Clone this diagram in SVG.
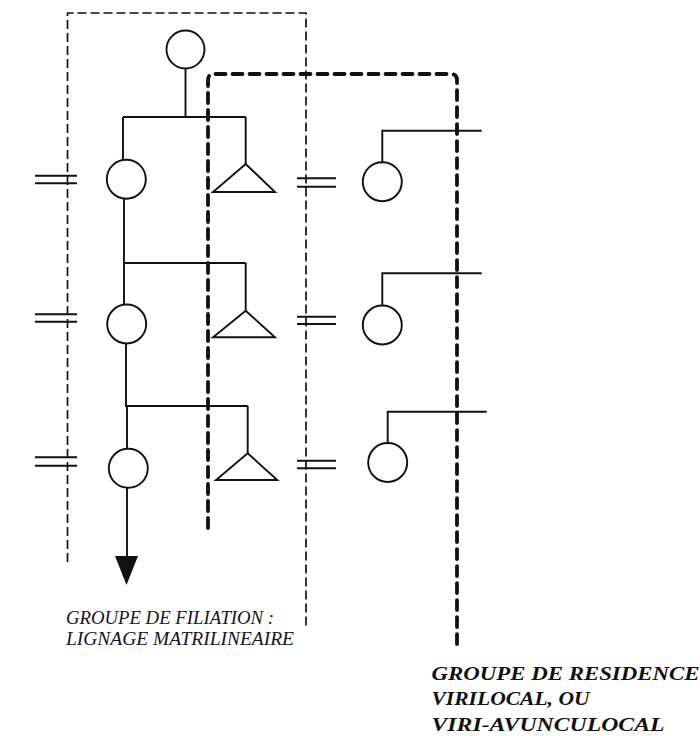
<svg xmlns="http://www.w3.org/2000/svg" width="700" height="736" viewBox="0 0 700 736">
<style>
.ln{fill:none;stroke:#111;stroke-width:1.9}
.sym{fill:#fff;stroke:#111;stroke-width:1.9}
.thin{fill:none;stroke:#111;stroke-width:1.7;stroke-dasharray:9 4}
.thick{fill:none;stroke:#111;stroke-width:3.8;stroke-dasharray:10 7;stroke-linecap:round}
.lab{font-family:"Liberation Serif","Times New Roman",serif;font-style:italic;fill:#141428}
.labb{font-family:"Liberation Serif","Times New Roman",serif;font-style:italic;font-weight:bold;fill:#111}
</style>
<rect width="700" height="736" fill="#fff"/>
<g id="groups">
<path class="thin" d="M67.5,562 V13 H306 V628"/>
<path class="thick" d="M208,528 V80 Q208,74 214,74 H451 Q457,74 457,80 V648"/>
</g>
<g id="connectors">
<path class="ln" d="M185.5,68.5 V117 M123,117 H245.7 M123,117 V160 M245.7,117 V164"/>
<path class="ln" d="M124,198.5 V263 H245.7 M124,263 V305 M245.7,263 V310.7"/>
<path class="ln" d="M126,343.5 V406 H247.7 M127,406 V449 M247.7,406 V453.3"/>
<path class="ln" d="M127,488 V557"/>
<polygon points="115,556 138,556 126.5,585" fill="#111"/>
<path class="ln" d="M35,175.7 H77 M35,183.3 H77 M35,314.3 H77 M35,321.7 H77 M35,457.3 H77 M35,465.7 H77"/>
<path class="ln" d="M297,178.3 H336 M297,186.7 H336 M297,316.7 H336 M297,324 H336 M297,460.7 H336 M297,468.3 H336"/>
<path class="ln" d="M382.3,162 V130.7 H481.7 M382.3,305.5 V273.3 H481.7 M387.7,442.5 V411.7 H486.7"/>
</g>
<g id="ego-mother"><circle class="sym" cx="185.5" cy="49.5" r="19"/></g>
<g id="f1"><circle class="sym" cx="126.3" cy="179.2" r="19.5"/></g>
<g id="m1"><polygon class="sym" points="245.7,164 275,192 213,192"/></g>
<g id="w1"><circle class="sym" cx="382.3" cy="181.7" r="19.5"/></g>
<g id="f2"><circle class="sym" cx="126.7" cy="324" r="19.5"/></g>
<g id="m2"><polygon class="sym" points="245.7,310.7 275,337.3 213,337.3"/></g>
<g id="w2"><circle class="sym" cx="382.3" cy="325" r="19.5"/></g>
<g id="f3"><circle class="sym" cx="128.3" cy="468.3" r="19.5"/></g>
<g id="m3"><polygon class="sym" points="247.7,453.3 277.3,480 216,480"/></g>
<g id="w3"><circle class="sym" cx="387.7" cy="462.5" r="19.5"/></g>
<g id="label-filiation">
<text class="lab" x="66" y="624" font-size="19" textLength="208" lengthAdjust="spacingAndGlyphs">GROUPE DE FILIATION :</text>
<text class="lab" x="66" y="645" font-size="19" textLength="228" lengthAdjust="spacingAndGlyphs">LIGNAGE MATRILINEAIRE</text>
</g>
<g id="label-residence">
<text class="labb" x="431.5" y="680" font-size="19.5" textLength="268" lengthAdjust="spacingAndGlyphs">GROUPE DE RESIDENCE</text>
<text class="labb" x="431.5" y="705" font-size="19.5" textLength="158" lengthAdjust="spacingAndGlyphs">VIRILOCAL, OU</text>
<text class="labb" x="431.5" y="731" font-size="19.5" textLength="233" lengthAdjust="spacingAndGlyphs">VIRI-AVUNCULOCAL</text>
</g>
</svg>
